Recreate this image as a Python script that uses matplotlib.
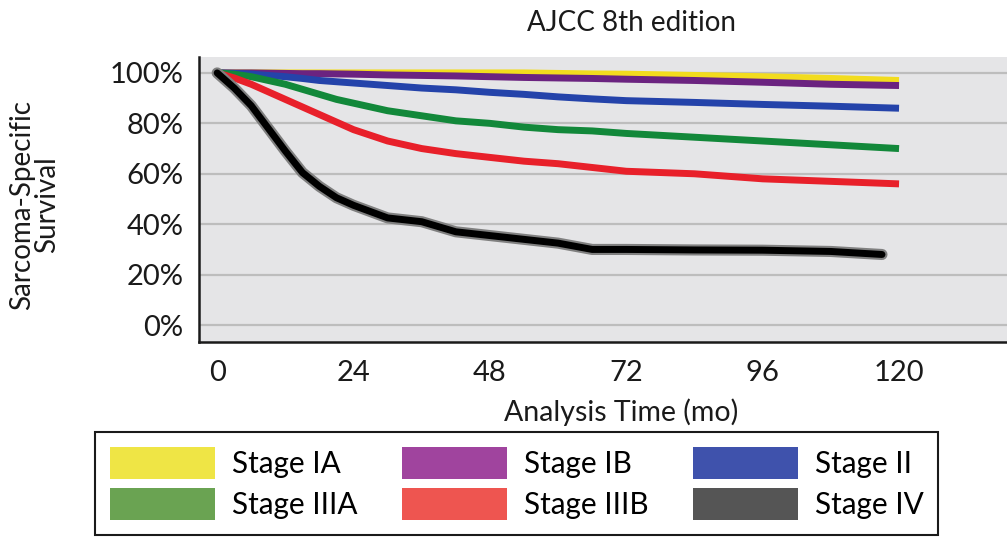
import matplotlib
matplotlib.use("Agg")
import matplotlib.pyplot as plt
import matplotlib.patheffects as pe
from matplotlib.patches import Patch
from matplotlib.ticker import FuncFormatter

plt.rcParams['font.family'] = ['Lato', 'DejaVu Sans']

# Kaplan-Meier style curves (% surviving)
months = [0, 3, 6, 9, 12, 15, 18, 21, 24, 30, 36, 42, 48, 54, 60, 66, 72, 84, 96, 108, 120]
months_iv = [0, 3, 6, 9, 12, 15, 18, 21, 24, 30, 36, 42, 48, 54, 60, 66, 72, 84, 96, 108, 117]

stage_ia = [100, 100, 100, 100, 100, 100, 100, 100, 100, 100, 100, 100, 100, 100, 99.8, 99.6, 99.5, 99, 98.5, 97.8, 97]
stage_ib = [100, 100, 100, 99.9, 99.8, 99.7, 99.7, 99.6, 99.5, 99.2, 99, 98.8, 98.5, 98.2, 98, 97.8, 97.5, 97, 96.3, 95.5, 95]
stage_ii = [100, 99.8, 99.5, 99, 98.5, 97.8, 97, 96.5, 96, 95, 94, 93.3, 92.3, 91.5, 90.5, 89.7, 89, 88.3, 87.5, 86.8, 86]
stage_iiia = [100, 99.5, 98.5, 97, 95.5, 93.5, 91.5, 89.5, 88, 85, 83, 81, 80, 78.5, 77.5, 77, 76, 74.5, 73, 71.5, 70]
stage_iiib = [100, 98, 95.5, 92.5, 89.5, 86.5, 83.5, 80.5, 77.5, 73, 70, 68, 66.5, 65, 64, 62.5, 61, 60, 58, 57, 56]
stage_iv = [100, 94, 87, 78, 69, 60.5, 55, 50.5, 47.5, 42.5, 41, 37, 35.5, 34, 32.5, 30, 30, 29.8, 29.7, 29.2, 28]

labels = ['Stage IA', 'Stage IB', 'Stage II', 'Stage IIIA', 'Stage IIIB', 'Stage IV']
line_colors = ['#f2dc1e', '#6b2380', '#2443aa', '#12883a', '#e8202a', '#000000']
legend_colors = ['#efe545', '#a0449e', '#3f52ac', '#6aa352', '#ee5550', '#555555']

series = [(months, stage_ia), (months, stage_ib), (months, stage_ii),
          (months, stage_iiia), (months, stage_iiib), (months_iv, stage_iv)]

fig = plt.figure(figsize=(10.07, 5.39), dpi=100)
ax = fig.add_axes([0.1976, 0.3655, 0.8024, 0.5287])
ax.set_facecolor('#e5e5e7')

for (x, y), c in zip(series, line_colors):
    if c == '#000000':
        ax.plot(x, y, color=c, linewidth=5, solid_capstyle='round',
                path_effects=[pe.Stroke(linewidth=8, foreground='#808080'), pe.Normal()])
    else:
        ax.plot(x, y, color=c, linewidth=5, solid_capstyle='butt')

ax.set_xlim(-3.2, 139)
ax.set_ylim(-6.7, 106.3)
ax.set_xticks([0, 24, 48, 72, 96, 120])
ax.set_yticks([0, 20, 40, 60, 80, 100])
ax.yaxis.set_major_formatter(FuncFormatter(lambda v, p: f'{int(v)}%'))
ax.tick_params(axis='both', length=0, labelsize=21, colors='#1a1a1a')
ax.tick_params(axis='y', pad=11)
ax.tick_params(axis='x', pad=13)
ax.grid(axis='y', color='#bdbdbd', linewidth=1.6)
ax.set_axisbelow(True)

for side in ['top', 'right']:
    ax.spines[side].set_visible(False)
for side in ['left', 'bottom']:
    ax.spines[side].set_linewidth(1.8)
    ax.spines[side].set_color('#1a1a1a')

ax.set_xlabel('Analysis Time (mo)', fontsize=20.5, color='#1a1a1a', va='center')
ax.xaxis.set_label_coords(0.522, -0.246)
fig.text(0.034, 0.62, 'Sarcoma-Specific\nSurvival', rotation=90, fontsize=20,
         ha='center', va='center', color='#1a1a1a', linespacing=0.95)
fig.text(0.627, 0.958, 'AJCC 8th edition', fontsize=20, ha='center', va='center', color='#1a1a1a')

# legend fills column-first, so reorder to read row by row
order = [0, 3, 1, 4, 2, 5]
handles = [Patch(facecolor=legend_colors[i], edgecolor='none') for i in order]
leg = fig.legend(handles, [labels[i] for i in order], ncol=3, loc='upper left',
                 bbox_to_anchor=(95 / 1007, 1 - 432 / 539), borderaxespad=0,
                 fontsize=21.4, handlelength=3.53, handleheight=1.28,
                 handletextpad=0.57, columnspacing=1.5, labelspacing=0.3,
                 borderpad=0.5, fancybox=False, framealpha=1)
leg.get_frame().set_edgecolor('#1a1a1a')
leg.get_frame().set_linewidth(1.5)

fig.savefig('out.png', dpi=100)
